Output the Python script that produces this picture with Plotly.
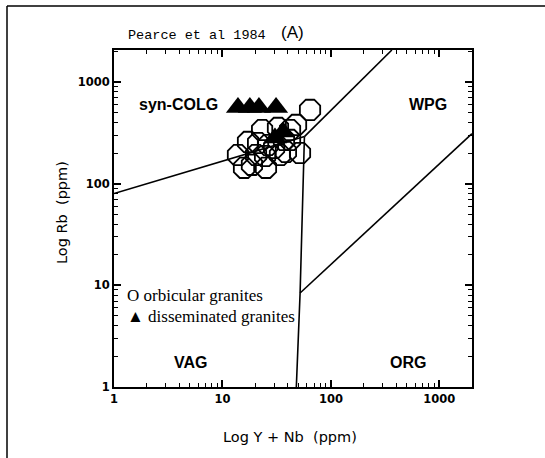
import plotly.graph_objects as go

# ---- data ----
orb_ynb = [13.9, 17.2, 15.8, 20.4, 23.2, 26.3, 25.2, 32.5, 33.9, 42.0,
           47.7, 51.9, 64.2, 24.7, 29.9, 42.0, 38.5, 18.7, 21.3, 36.9]
orb_rb = [191, 257, 143, 191, 337, 240, 143, 353, 191, 269,
          378, 200, 531, 187, 224, 337, 205, 153, 251, 269]

dis_ynb = [13.9, 17.9, 21.7, 31.2, 30.5, 36.2]
dis_rb = [560, 560, 560, 560, 281, 322]

# boundaries (Pearce et al. 1984)
vag_col_x = [1, 57]
vag_col_y = [80, 290]
col_wpg_x = [57, 365]
col_wpg_y = [290, 2061]
vag_wpg_x = [57, 52, 48]
vag_wpg_y = [290, 8.4, 1]
wpg_org_x = [52, 2000]
wpg_org_y = [8.4, 310]

tick_vals = [1, 10, 100, 1000]
tick_text = ["1", "10", "100", "1000"]
minor_vals = [m * d for d in (1, 10, 100, 1000) for m in range(2, 10)]

fig = go.Figure()
line_style = dict(color="black", width=1.6)
for xs, ys in [(vag_col_x, vag_col_y), (col_wpg_x, col_wpg_y),
               (vag_wpg_x, vag_wpg_y), (wpg_org_x, wpg_org_y)]:
    fig.add_trace(go.Scatter(x=xs, y=ys, mode="lines", line=line_style,
                             showlegend=False, hoverinfo="skip"))

fig.add_trace(go.Scatter(x=orb_ynb, y=orb_rb, mode="markers",
                         marker=dict(symbol="octagon-open", size=22,
                                     color="black", line=dict(width=1.8, color="black")),
                         name="orbicular granites", showlegend=False))
fig.add_trace(go.Scatter(x=dis_ynb, y=dis_rb, mode="markers",
                         marker=dict(symbol="triangle-up", size=21, color="black"),
                         name="disseminated granites", showlegend=False))

axis_common = dict(
    type="log", showgrid=False, zeroline=False, showline=True,
    linecolor="black", linewidth=2, mirror="allticks",
    ticks="inside", ticklen=7, tickwidth=1.5, tickcolor="black",
    tickvals=tick_vals, ticktext=["<b>%s</b>" % t for t in tick_text],
    tickfont=dict(family="DejaVu Sans", size=11.5, color="black"),
    minor=dict(tickvals=minor_vals, ticks="inside", ticklen=4,
               tickwidth=1.2, tickcolor="black", showgrid=False),
)

fig.update_xaxes(range=[0, 3.301], **axis_common)
fig.update_yaxes(range=[0, 3.314], **axis_common)

W, H = 545, 458
L, R, T, B = 114, 73, 50, 71
pw, ph = W - L - R, H - T - B


def px(x):
    return (x - L) / pw


def py(y):
    return (H - B - y) / ph


ann = []
bold = dict(family="Liberation Sans", size=16, color="black")
for txt, x, y in [("syn-COLG", 178, 104), ("WPG", 428, 104),
                  ("VAG", 190, 362), ("ORG", 408, 362)]:
    ann.append(dict(text="<b>%s</b>" % txt, x=px(x), y=py(y), xref="paper",
                    yref="paper", showarrow=False, font=bold,
                    xanchor="center", yanchor="middle"))

serif = dict(family="Liberation Serif", size=17, color="black")
ann.append(dict(text="O orbicular granites", x=px(125), y=py(295), xref="paper",
                yref="paper", showarrow=False, font=serif, xanchor="left",
                yanchor="middle"))
ann.append(dict(text="▲ disseminated granites", x=px(125), y=py(316), xref="paper",
                yref="paper", showarrow=False, font=serif, xanchor="left",
                yanchor="middle"))

ann.append(dict(text="Pearce et al 1984", x=px(126), y=py(36), xref="paper",
                yref="paper", showarrow=False,
                font=dict(family="Liberation Mono", size=13.5, color="black"),
                xanchor="left", yanchor="middle"))
ann.append(dict(text="(A)", x=px(279), y=py(33), xref="paper",
                yref="paper", showarrow=False,
                font=dict(family="Liberation Sans", size=17, color="black"),
                xanchor="left", yanchor="middle"))

ann.append(dict(text="Log Y + Nb  (ppm)", x=px(290), y=py(437), xref="paper",
                yref="paper", showarrow=False,
                font=dict(family="DejaVu Sans", size=14.5, color="black"),
                xanchor="center", yanchor="middle"))
ann.append(dict(text="Log Rb  (ppm)", x=px(62), y=py(212), xref="paper",
                yref="paper", showarrow=False, textangle=-90,
                font=dict(family="DejaVu Sans", size=14.5, color="black"),
                xanchor="center", yanchor="middle"))

shapes = [
    dict(type="line", xref="paper", yref="paper", x0=px(7), x1=px(545),
         y0=py(6), y1=py(6), line=dict(color="black", width=1.5)),
    dict(type="line", xref="paper", yref="paper", x0=px(7), x1=px(7),
         y0=py(6), y1=py(458), line=dict(color="black", width=1.5)),
]

fig.update_layout(
    width=W, height=H, margin=dict(l=L, r=R, t=T, b=B),
    paper_bgcolor="white", plot_bgcolor="white",
    font=dict(color="black"),
    annotations=ann, shapes=shapes, showlegend=False,
)

fig.write_html("out.html")
